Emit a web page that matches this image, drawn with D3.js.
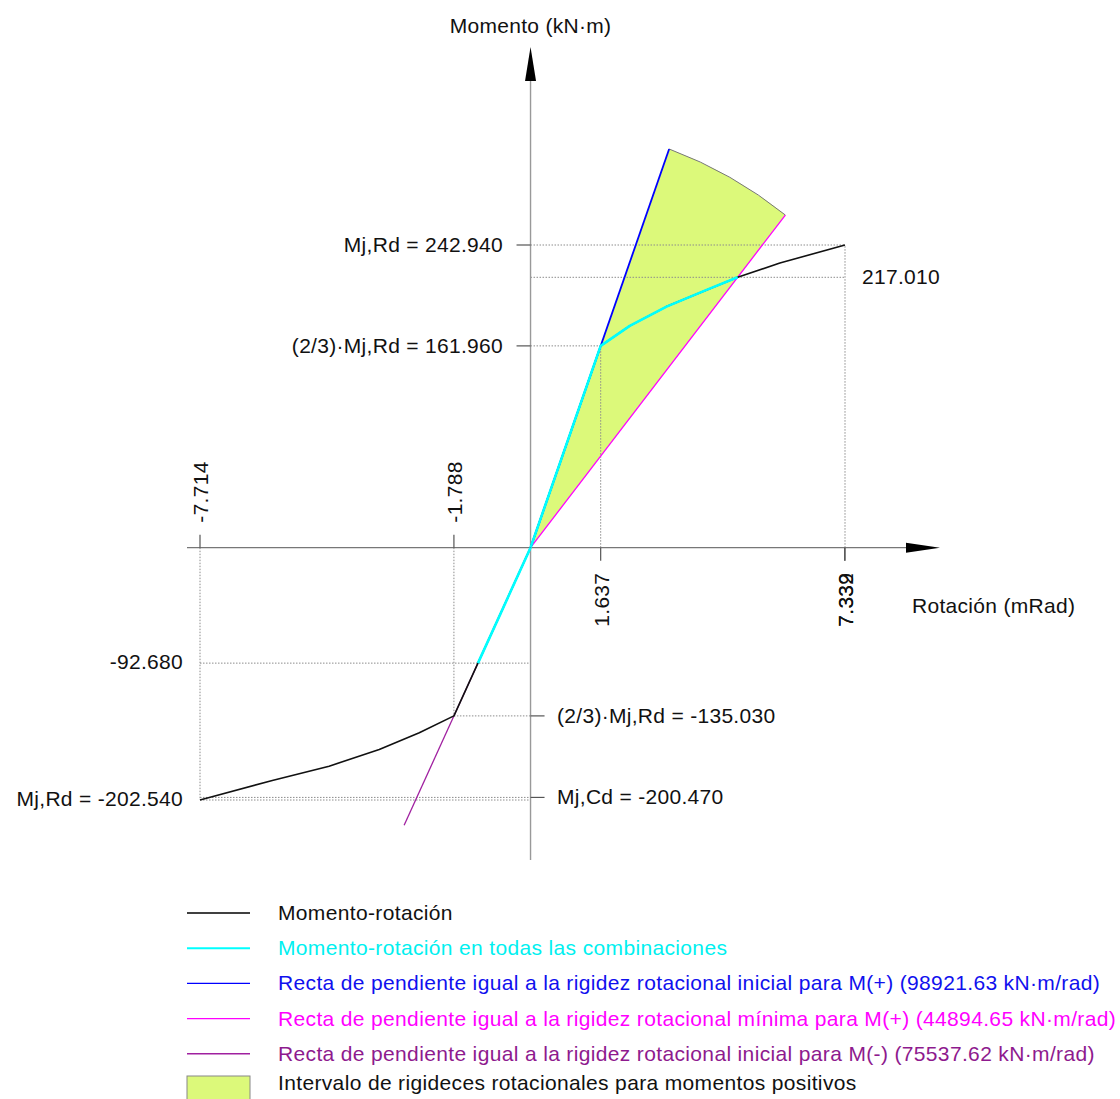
<!DOCTYPE html>
<html>
  <head>
    <meta charset="utf-8">
    <style>
      body { margin: 0; background: #fff; }
      svg { font-family: "Liberation Sans", Arial, sans-serif; }
      .guide { stroke: #8c8c8c; stroke-width: 1; stroke-dasharray: 1.5,1.5; fill: none; }
      .tick { stroke: #555; stroke-width: 1.2; }
      .lbl { font-size: 21px; letter-spacing: 0.3px; fill: #111; }
      .leg { font-size: 21px; letter-spacing: 0.35px; }
    </style>
  </head>
  <body>
    <script src="https://d3js.org/d3.v7.min.js"></script>
    <script>
      // momento-rotacion (mRad, kN·m)
      const curvePos = [[0,0],[1.637,161.96],[2.315,178.0],[3.174,193.5],[4.109,206.9],[4.834,217.01],[5.82,228.5],[7.339,242.94]]
      const curveNeg = [[0,0],[-1.788,-135.03],[-2.596,-148.6],[-3.531,-162.0],[-4.701,-175.4],[-6.027,-186.9],[-7.714,-202.54]]
      const cyanPos = [[0,0],[1.637,161.96],[2.315,178.0],[3.174,193.5],[4.109,206.9],[4.834,217.01]]
      const cyanNeg = [[0,0],[-1.227,-92.68]]
      // rectas de rigidez
      const rectaIniPos = [[0,0],[3.235,320.0]]
      const rectaMinPos = [[0,0],[5.947,267.0]]
      const rectaIniNeg = [[0,0],[-2.95,-222.8]]

      const hGuides = [[242.94,0,7.339],[217.01,0,7.339],[161.96,0,1.637],[-92.68,-7.714,0],[-135.03,-1.788,0],[-200.47,-7.714,0],[-202.54,-7.714,0]]
      const vGuides = [[7.339,242.94],[1.637,161.96],[-7.714,-202.54],[-1.788,-135.03]]
      const xTicks = [-7.714,-1.788,1.637,7.332,7.339]
      const yTicksLeft = [[242.94,"Mj,Rd = 242.940"],[161.96,"(2/3)·Mj,Rd = 161.960"]]
      const yTicksRight = [[-135.03,"(2/3)·Mj,Rd = -135.030"],[-200.47,"Mj,Cd = -200.470"]]
      const yLabelsFar = [[-92.68,"-92.680"],[-202.54,"Mj,Rd = -202.540"]]

      const legendItems = [
        ["Momento-rotación","#000","#111",1.4],
        ["Momento-rotación en todas las combinaciones","#00ffff","#00f0f0",2],
        ["Recta de pendiente igual a la rigidez rotacional inicial para M(+) (98921.63 kN·m/rad)","#0000ff","#1010ee",1.4],
        ["Recta de pendiente igual a la rigidez rotacional mínima para M(+) (44894.65 kN·m/rad)","#ff00ff","#ff00ff",1.4],
        ["Recta de pendiente igual a la rigidez rotacional inicial para M(-) (75537.62 kN·m/rad)","#a020a0","#8e1a8e",1.4]
      ]

      const w = 1120, h = 1099
      const svg = d3.select("body").append("svg").attr("width", w).attr("height", h)

      const x = d3.scaleLinear().domain([-7.714, 7.339]).range([200, 845])
      const y = d3.scaleLinear().domain([-202.54, 242.94]).range([800, 245])
      const x0 = x(0), y0 = y(0)
      const line = d3.line().x(d => x(d[0])).y(d => y(d[1]))

      // zona de rigideces
      const pB = [x(rectaIniPos[1][0]), y(rectaIniPos[1][1])]
      const pM = [x(rectaMinPos[1][0]), y(rectaMinPos[1][1])]
      const r = (Math.hypot(pB[0]-x0, pB[1]-y0) + Math.hypot(pM[0]-x0, pM[1]-y0)) / 2
      svg.append("path")
        .attr("d", `M${x0},${y0}L${pB[0]},${pB[1]}A${r},${r} 0 0 1 ${pM[0]},${pM[1]}Z`)
        .attr("fill", "#dcf97a").attr("stroke", "none")
      svg.append("path")
        .attr("d", `M${pB[0]},${pB[1]}A${r},${r} 0 0 1 ${pM[0]},${pM[1]}`)
        .attr("fill", "none").attr("stroke", "#777").attr("stroke-width", 1)

      // guias punteadas
      hGuides.forEach(g => {
        svg.append("line").attr("class","guide")
          .attr("x1", x(g[1])).attr("x2", x(g[2])).attr("y1", y(g[0])).attr("y2", y(g[0]))
      })
      vGuides.forEach(g => {
        svg.append("line").attr("class","guide")
          .attr("x1", x(g[0])).attr("x2", x(g[0])).attr("y1", y0).attr("y2", y(g[1]))
      })

      // ejes
      svg.append("line").attr("x1", 187).attr("x2", 910).attr("y1", y0).attr("y2", y0)
        .attr("stroke", "#777").attr("stroke-width", 1.2)
      svg.append("path").attr("d", `M906,${y0-5}L940,${y0}L906,${y0+5}Z`).attr("fill", "#000")
      svg.append("line").attr("x1", x0).attr("x2", x0).attr("y1", 78).attr("y2", 860)
        .attr("stroke", "#999").attr("stroke-width", 1.4)
      svg.append("path").attr("d", `M${x0-5.5},81L${x0},47L${x0+5.5},81Z`).attr("fill", "#000")

      svg.append("text").attr("class","lbl").attr("x", x0).attr("y", 33)
        .attr("text-anchor","middle").text("Momento (kN·m)")
      svg.append("text").attr("class","lbl").attr("x", 912).attr("y", 613).text("Rotación (mRad)")

      // ticks x
      xTicks.forEach(v => {
        const px = x(v)
        const up = v < 0
        svg.append("line").attr("class","tick")
          .attr("x1", px).attr("x2", px).attr("y1", y0).attr("y2", up ? y0 - 13 : y0 + 13)
        svg.append("text").attr("class","lbl")
          .attr("transform", `translate(${px + 8},${up ? y0 - 25 : y0 + 25}) rotate(-90)`)
          .attr("text-anchor", up ? "start" : "end")
          .text(v.toFixed(3))
      })

      // ticks y
      yTicksLeft.forEach(t => {
        svg.append("line").attr("class","tick")
          .attr("x1", x0 - 14).attr("x2", x0).attr("y1", y(t[0])).attr("y2", y(t[0]))
        svg.append("text").attr("class","lbl").attr("x", 503).attr("y", y(t[0]) + 7)
          .attr("text-anchor","end").text(t[1])
      })
      yTicksRight.forEach(t => {
        svg.append("line").attr("class","tick")
          .attr("x1", x0).attr("x2", x0 + 14).attr("y1", y(t[0])).attr("y2", y(t[0]))
        svg.append("text").attr("class","lbl").attr("x", 557).attr("y", y(t[0]) + 7).text(t[1])
      })
      yLabelsFar.forEach(t => {
        svg.append("text").attr("class","lbl").attr("x", 183).attr("y", y(t[0]) + 6)
          .attr("text-anchor","end").text(t[1])
      })
      svg.append("text").attr("class","lbl").attr("x", 862).attr("y", y(217.01) + 7).text("217.010")

      // curvas
      const draw = (data, color, width) => svg.append("path").datum(data)
        .attr("d", line).attr("fill","none").attr("stroke", color).attr("stroke-width", width)
        .attr("stroke-linejoin","round")
      draw(rectaIniNeg, "#a020a0", 1.3)
      draw(rectaMinPos, "#ff00ff", 1.3)
      draw(rectaIniPos, "#0000ff", 1.8)
      draw(curvePos, "#111", 1.6)
      draw(curveNeg, "#111", 1.6)
      draw(cyanPos, "#00ffff", 2.6)
      draw(cyanNeg, "#00ffff", 2.6)

      // leyenda
      const lg = svg.append("g")
      legendItems.forEach((it, i) => {
        const ly = 913 + i * 35.2
        lg.append("line").attr("x1", 187).attr("x2", 250).attr("y1", ly).attr("y2", ly)
          .attr("stroke", it[1]).attr("stroke-width", it[3])
        lg.append("text").attr("class","leg").attr("x", 278).attr("y", ly + 7)
          .attr("fill", it[2]).text(it[0])
      })
      lg.append("rect").attr("x", 187).attr("y", 1076).attr("width", 63).attr("height", 30)
        .attr("fill", "#dcf97a").attr("stroke", "#888")
      lg.append("text").attr("class","leg").attr("x", 278).attr("y", 1090).attr("fill", "#111")
        .text("Intervalo de rigideces rotacionales para momentos positivos")
    </script>
  </body>
</html>
